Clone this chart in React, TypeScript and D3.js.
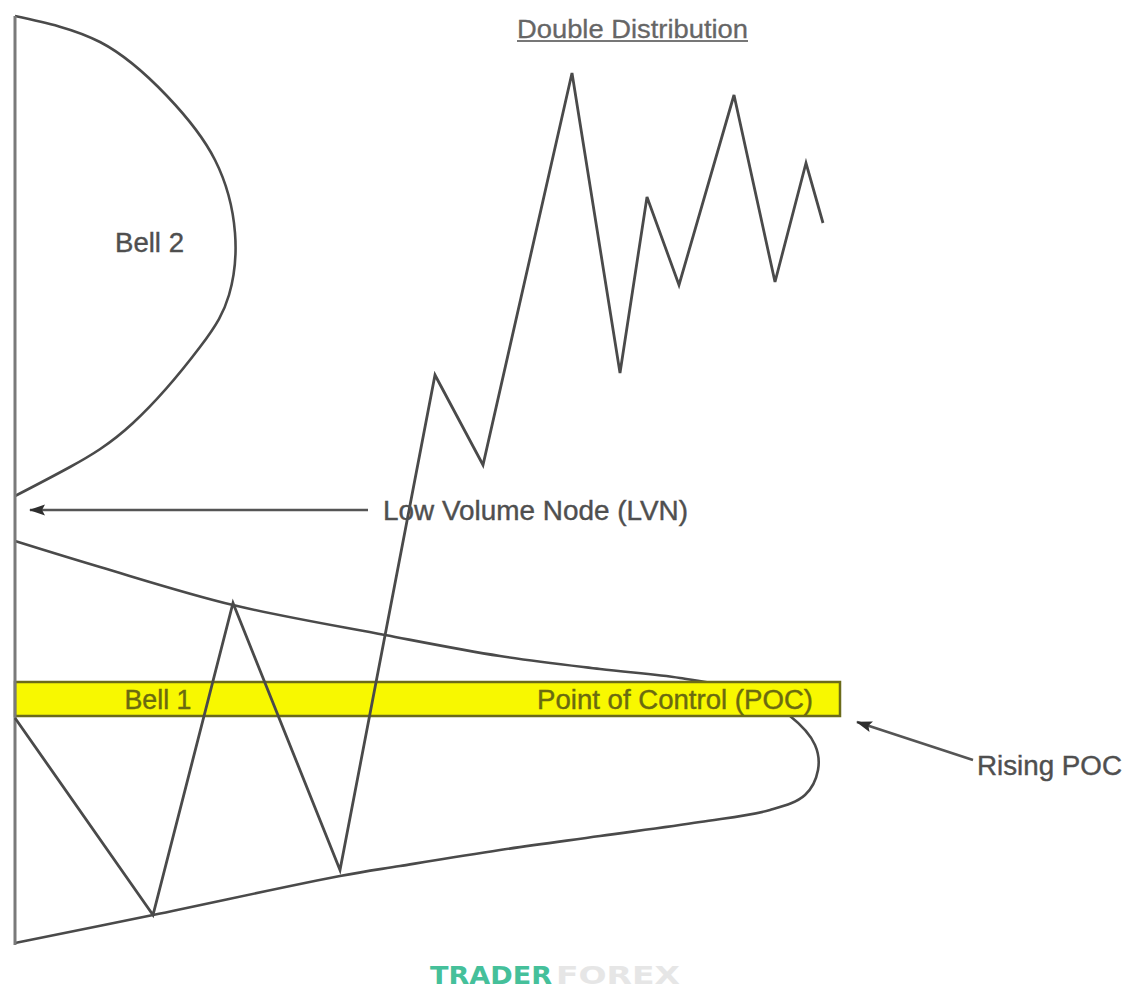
import React from "react";
import * as d3 from "d3";

// Price path (time index, price level)
const pathTime = [0, 138, 218, 325, 420, 468, 557, 605, 632, 664, 719, 760, 791, 808];
const pathPrice = [227, 30, 342, 75, 570, 480, 872, 572, 748, 660, 850, 663, 782, 722];

// Upper distribution (Bell 2): volume at price
const bell2Volume = [0, 85, 152, 200, 220, 214, 185, 118, 55, 0];
const bell2Price = [929, 903, 849, 785, 712, 650, 598, 522, 478, 449];

// Lower distribution (Bell 1): volume at price
const bell1Volume = [0, 85, 218, 370, 485, 585, 665, 725, 775, 800, 803, 790, 755, 685, 585, 485, 385, 325, 138, 0];
const bell1Price = [404, 378, 340, 310, 289, 276, 267, 255, 229, 200, 175, 150, 135, 123, 109, 95, 79, 69, 30, 2];

// Point of control band
const pocLow = 229;
const pocHigh = 263;
const pocWidth = 825;

// Low volume node level
const lvnPrice = 435;

const labels = {
  title: "Double Distribution",
  bell2: "Bell 2",
  bell1: "Bell 1",
  poc: "Point of Control (POC)",
  lvn: "Low Volume Node (LVN)",
  rising: "Rising POC",
};

const W = 1125;
const H = 991;

export default function App() {
  const x = d3.scaleLinear().domain([0, 1110]).range([15, 1125]);
  const y = d3.scaleLinear().domain([0, 945]).range([945, 0]);

  const lineXY = d3.line<[number, number]>().x((d) => x(d[0])).y((d) => y(d[1]));
  const curve = d3
    .line<[number, number]>()
    .x((d) => x(d[0]))
    .y((d) => y(d[1]))
    .curve(d3.curveCatmullRom.alpha(0.5));
  const smooth = d3
    .line<[number, number]>()
    .x((d) => x(d[0]))
    .y((d) => y(d[1]))
    .curve(d3.curveNatural);

  const pricePts: [number, number][] = pathTime.map((t, i) => [t, pathPrice[i]]);
  const bell2Pts: [number, number][] = bell2Volume.map((v, i) => [v, bell2Price[i]]);
  const bell1Pts: [number, number][] = bell1Volume.map((v, i) => [v, bell1Price[i]]);

  const font = "'Liberation Sans', Arial, sans-serif";
  const stroke = "#4a4a4a";
  const textFill = "#4f4f4f";
  const textStyle = { stroke: textFill, strokeWidth: 0.4 } as React.CSSProperties;
  const bandText = { stroke: "#6a6a10", strokeWidth: 0.4 } as React.CSSProperties;

  return (
    <svg
      width={W}
      height={H}
      viewBox={`0 0 ${W} ${H}`}
      style={{ position: "absolute", left: 0, top: 0, background: "#fff" }}
    >
      <defs>
        <marker
          id="ah"
          markerUnits="userSpaceOnUse"
          viewBox="0 0 16 12"
          refX="15"
          refY="6"
          markerWidth="16"
          markerHeight="12"
          orient="auto"
        >
          <path d="M16,6 L0,0.5 L3,6 L0,11.5 Z" fill="#2e2e2e" />
        </marker>
      </defs>

      {/* Bells */}
      <path d={smooth(bell2Pts) || ""} fill="none" stroke={stroke} strokeWidth={2.6} />
      <path d={curve(bell1Pts) || ""} fill="none" stroke={stroke} strokeWidth={2.6} />

      {/* POC band */}
      <rect
        x={x(0)}
        y={y(pocHigh)}
        width={x(pocWidth) - x(0)}
        height={y(pocLow) - y(pocHigh)}
        fill="#f8f800"
        stroke="#6b6b1a"
        strokeWidth={2.5}
      />

      {/* Axis */}
      <line x1={x(0)} x2={x(0)} y1={y(929)} y2={y(0)} stroke="#7a7a7a" strokeWidth={3} />

      {/* Price path */}
      <path d={lineXY(pricePts) || ""} fill="none" stroke={stroke} strokeWidth={2.8} strokeLinejoin="miter" />

      <text x={158} y={y((pocLow + pocHigh) / 2)} dy="0.36em" textAnchor="middle" fontFamily={font} fontSize={27} fill="#6a6a10" style={bandText} textLength={67} lengthAdjust="spacingAndGlyphs">
        {labels.bell1}
      </text>
      <text x={675} y={y((pocLow + pocHigh) / 2)} dy="0.36em" textAnchor="middle" fontFamily={font} fontSize={27} fill="#6a6a10" style={bandText} textLength={276} lengthAdjust="spacingAndGlyphs">
        {labels.poc}
      </text>

      {/* LVN arrow */}
      <line x1={x(353)} x2={x(15)} y1={y(lvnPrice)} y2={y(lvnPrice)} stroke="#555" strokeWidth={2.6} markerEnd="url(#ah)" />
      <text x={383} y={y(lvnPrice)} dy="0.36em" fontFamily={font} fontSize={27} fill={textFill} style={textStyle} textLength={305} lengthAdjust="spacingAndGlyphs">
        {labels.lvn}
      </text>

      {/* Rising POC arrow */}
      <line x1={973} y1={760} x2={857} y2={722} stroke="#555" strokeWidth={2.6} markerEnd="url(#ah)" />
      <text x={977} y={765} dy="0.36em" fontFamily={font} fontSize={27} fill={textFill} style={textStyle} textLength={145} lengthAdjust="spacingAndGlyphs">
        {labels.rising}
      </text>

      {/* Bell 2 label */}
      <text x={115} y={242} dy="0.36em" fontFamily={font} fontSize={27} fill={textFill} style={textStyle} textLength={69} lengthAdjust="spacingAndGlyphs">
        {labels.bell2}
      </text>

      {/* Title */}
      <text x={517} y={38} fontFamily={font} fontSize={26} fill="#666" style={{ stroke: "#666", strokeWidth: 0.3 }} textLength={231} lengthAdjust="spacingAndGlyphs">
        {labels.title}
      </text>
      <line x1={517} x2={748} y1={41} y2={41} stroke="#777" strokeWidth={2} />

      {/* Watermark */}
      <text x={430} y={984} fontFamily="'DejaVu Sans', sans-serif" fontWeight={800} fontSize={24} fill="#45c09a" textLength={122} lengthAdjust="spacingAndGlyphs">
        TRADER
      </text>
      <text x={556} y={984} fontFamily="'DejaVu Sans', sans-serif" fontWeight={800} fontSize={24} fill="#e6e6e6" textLength={124} lengthAdjust="spacingAndGlyphs">
        FOREX
      </text>
    </svg>
  );
}
